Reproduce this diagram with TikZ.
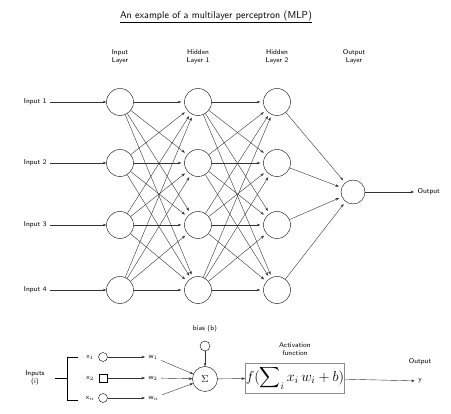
\documentclass[tikz,border=0pt]{standalone}
\usetikzlibrary{calc, positioning, arrows.meta}
\usepackage{amsmath}
\usepackage{amssymb}
\newcommand{\xin}[1]{\textsf{x}$_{#1}$}
\newcommand{\win}[1]{\textsf{w}$_{#1}$}

\begin{document}
\begin{tikzpicture}[x=1pt,y=-1pt,
  neuron/.style={draw,circle,minimum size=27pt,inner sep=0pt},
  wire/.style={-{Stealth[length=3.5pt]},draw=black!80},
  lbl/.style={font=\sffamily\scriptsize,align=center}]
\useasboundingbox (0,0) rectangle (451,414);
\node[font=\sffamily] (title) at (216,17) {\underline{An example of a multilayer perceptron (MLP)}};
\node[lbl] (l0) at (120,57) {Input\\Layer};
\node[lbl] (l1) at (198,57) {Hidden\\Layer 1};
\node[lbl] (l2) at (277,57) {Hidden\\Layer 2};
\node[lbl] (l3) at (354,57) {Output\\Layer};
% network
\foreach \y [count=\k] in {102,163,225,290} {
  \node[neuron] (i\k) at (120,\y) {};
  \node[neuron] (h\k) at (198,\y) {};
  \node[neuron] (g\k) at (277,\y) {};
  \node[lbl,anchor=east] (in\k) at (50,\y) {Input \k};
  \draw[wire] (in\k) -- (i\k);
}
\node[neuron,minimum size=24pt] (o) at (353,192) {};
\foreach \a in {1,...,4} \foreach \b in {1,...,4} {
  \draw[wire,shorten >=3pt] (i\a) -- (h\b);
  \draw[wire,shorten >=3pt] (h\a) -- (g\b);
}
\foreach \a in {1,...,4} \draw[wire,shorten >=3pt] (g\a) -- (o);
\node[lbl,anchor=west] (out) at (414,192) {Output};
\draw[wire] (o) -- (out);
% single neuron
\node[lbl] (bias) at (205,329) {bias (b)};
\node[draw,circle,minimum size=10pt,inner sep=0pt] (bn) at (205,346) {};
\node[neuron,minimum size=25pt] (sum) at (205,379) {$\Sigma$};
\draw[wire] (bn) -- (sum);
\node[lbl] (inp) at (35,378) {Inputs\\(i)};
\draw (78,357) -- (67,357) -- (67,400) -- (78,400);
\draw (67,378) -- (55,378);
\node[lbl] (x1) at (90,357) {\xin{1}};
\node[lbl] (x2) at (90,378) {\xin{2}};
\node[lbl] (x3) at (90,398) {\xin{n}};
\node[draw,circle,minimum size=9pt,inner sep=0pt] (s1) at (103,357) {};
\node[draw,rectangle,minimum size=8pt,inner sep=0pt] (s2) at (103,378) {};
\node[draw,circle,minimum size=9pt,inner sep=0pt] (s3) at (103,398) {};
\node[lbl,anchor=west] (w1) at (145,357) {\win{1}};
\node[lbl,anchor=west] (w2) at (145,378) {\win{2}};
\node[lbl,anchor=west] (w3) at (145,398) {\win{n}};
\foreach \k in {1,2,3} {
  \draw[wire] (s\k) -- (w\k);
  \draw[wire] (w\k) -- (sum);
}
\node[lbl] (actl) at (295,349) {Activation\\function};
\node[draw=black!45,inner sep=0.5pt,minimum width=86pt,minimum height=30pt,font=\Large] (act) at (295,378)
  {$\displaystyle f(\sum\nolimits_i x_i\, w_i + b)$};
\draw[wire] (sum) -- (act);
\node[lbl] (outl) at (420,362) {Output};
\node[lbl] (y) at (420,381) {y};
\draw[wire] (act) -- (y);
\end{tikzpicture}
\end{document}
